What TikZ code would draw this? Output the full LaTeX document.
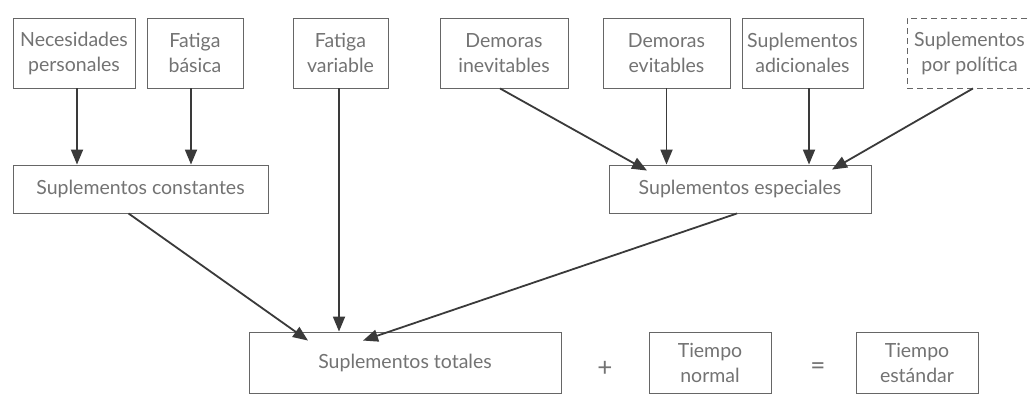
\documentclass[tikz,border=0pt]{standalone}
\usepackage{fontspec}
\setmainfont{Lato}
\usetikzlibrary{arrows.meta}
\definecolor{txt}{HTML}{737373}
\definecolor{edge}{HTML}{666666}
\definecolor{arr}{HTML}{3A3A3A}
\tikzset{
  box/.style={draw=edge, line width=0.9pt, rectangle, inner sep=0pt, align=center,
    text=txt, font=\fontsize{19.5}{25}\selectfont},
  tall/.style={minimum height=70pt},
  flat/.style={minimum height=48pt},
  low/.style={minimum height=61pt},
  arrowline/.style={draw=arr, line width=1.8pt, -{Triangle[length=15pt,width=12pt]}},
  sym/.style={text=txt, font=\fontsize{26}{26}\selectfont}
}
\begin{document}
\begin{tikzpicture}[x=1pt,y=-1pt]
\useasboundingbox (0,0) rectangle (1030,394);
\fill[white] (0,0) rectangle (1030,394);
\node[box,tall,minimum width=122pt] (nec) at (74,53) {Necesidades\\personales};
\node[box,tall,minimum width=96pt] (fb) at (195,53) {Fatiga\\básica};
\node[box,tall,minimum width=95pt] (fv) at (340.5,53) {Fatiga\\variable};
\node[box,tall,minimum width=128pt] (di) at (504,53) {Demoras\\inevitables};
\node[box,tall,minimum width=127pt] (de) at (666.5,53) {Demoras\\evitables};
\node[box,tall,minimum width=121pt] (sa) at (802.5,53) {Suplementos\\adicionales};
\node[box,tall,minimum width=125pt,dashed,dash pattern=on 6pt off 4pt] (sp) at (969.5,53) {Suplementos\\por política};
\node[box,flat,minimum width=255pt] (sc) at (140.5,189) {Suplementos constantes};
\node[box,flat,minimum width=262pt] (se) at (740,189) {Suplementos especiales};
\node[box,low,minimum width=312pt] (st) at (405,362.5) {Suplementos totales};
\node[box,low,minimum width=122pt] (tn) at (710,362.5) {Tiempo\\normal};
\node[box,low,minimum width=122pt] (te) at (917,362.5) {Tiempo\\estándar};
\node[sym] (plus) at (605,369) {+};
\node[sym] (eq) at (818,369) {=};
% arrows
\draw[arrowline] ([xshift=3pt]nec.south) -- ([xshift=3pt]nec.south |- sc.north);
\draw[arrowline] ([xshift=-4pt]fb.south) -- ([xshift=-4pt]fb.south |- sc.north);
\draw[arrowline] ([xshift=-1.5pt]fv.south) -- ([xshift=-1.5pt]fv.south |- st.north);
\draw[arrowline] ([xshift=-4pt]di.south) -- ([xshift=-93pt,yshift=-6pt]se.north);
\draw[arrowline] (de.south) -- (de.south |- se.north);
\draw[arrowline] ([xshift=6.5pt]sa.south) -- ([xshift=6.5pt]sa.south |- se.north);
\draw[arrowline] ([xshift=3.5pt]sp.south) -- ([xshift=92pt,yshift=-5pt]se.north);
\draw[arrowline] ([xshift=-12pt]sc.south) -- ([xshift=-97pt,yshift=-9pt]st.north);
\draw[arrowline] ([xshift=-3pt]se.south) -- ([xshift=-42pt,yshift=-9pt]st.north);
\end{tikzpicture}
\end{document}
